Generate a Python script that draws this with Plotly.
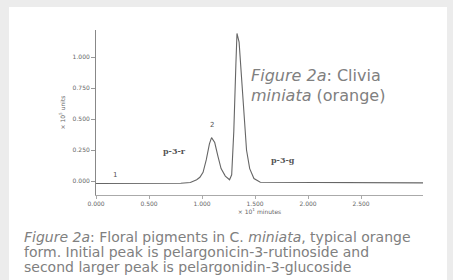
import plotly.graph_objects as go

# Chromatogram trace
time = [0.00, 0.18, 0.50, 0.80, 0.89, 0.95, 0.98, 1.01, 1.04, 1.07, 1.09, 1.12, 1.15, 1.18,
        1.22, 1.26, 1.28, 1.30, 1.32, 1.33, 1.35, 1.37, 1.40, 1.42, 1.45, 1.49, 1.55, 2.00, 3.11]
signal = [-0.02, -0.02, -0.02, -0.018, -0.012, 0.01, 0.03, 0.07, 0.17, 0.30, 0.35, 0.31, 0.20, 0.10,
          0.04, 0.01, 0.05, 0.40, 0.95, 1.19, 1.12, 0.85, 0.50, 0.25, 0.10, 0.02, -0.01, -0.012, -0.015]

x_ticks = [0.0, 0.5, 1.0, 1.5, 2.0, 2.5]
x_tick_labels = ["0.000", "0.500", "1.000", "1.500", "2.000", "2.500"]
y_ticks = [0.0, 0.25, 0.5, 0.75, 1.0]
y_tick_labels = ["0.000", "0.250", "0.500", "0.750", "1.000"]

peak_names = ["1", "2", "3"]
peak_times = [0.18, 1.09, 1.33]
peak_heights = [0.05, 0.45, 1.30]

compound_labels = ["p-3-r", "p-3-g"]
compound_x = [0.74, 1.76]
compound_y = [0.24, 0.17]

title_lines = ["<i>Figure 2a</i>: Clivia", "<i>miniata</i> (orange)"]
caption_lines = ["<i>Figure 2a</i>: Floral pigments in C. <i>miniata</i>, typical orange",
                 "form. Initial peak is pelargonicin-3-rutinoside and",
                 "second larger peak is pelargonidin-3-glucoside"]

W, H = 453, 280
L, R, T, B = 96, 30, 30, 85
PW, PH = W - L - R, H - T - B


def px(p):
    return (p - L) / PW


def py(q):
    return (H - B - q) / PH


fig = go.Figure()
fig.add_trace(go.Scatter(x=time, y=signal, mode="lines",
                         line=dict(color="#666666", width=1.1), hoverinfo="skip"))

grey = "#808080"
ann = []
for n, t, h in zip(peak_names, peak_times, peak_heights):
    ann.append(dict(x=t, y=h, xref="x", yref="y", text=n, showarrow=False,
                    font=dict(family="DejaVu Sans", size=7, color="#555")))
for lab, cx, cy in zip(compound_labels, compound_x, compound_y):
    ann.append(dict(x=cx, y=cy, xref="x", yref="y", text="<b>" + lab + "</b>", showarrow=False,
                    font=dict(family="DejaVu Serif", size=8, color="#555")))

for i, line in enumerate(title_lines):
    ann.append(dict(x=px(249), y=py(75 + 20 * i), xref="paper", yref="paper",
                    xanchor="left", yanchor="middle", text=line, showarrow=False,
                    font=dict(family="DejaVu Sans", size=16, color=grey)))
for i, line in enumerate(caption_lines):
    ann.append(dict(x=px(22), y=py(237 + 15 * i), xref="paper", yref="paper",
                    xanchor="left", yanchor="middle", text=line, showarrow=False,
                    font=dict(family="DejaVu Sans", size=14, color=grey)))

fig.update_layout(
    width=W, height=H,
    margin=dict(l=L, r=R, t=T, b=B, autoexpand=False),
    paper_bgcolor="#ececec",
    plot_bgcolor="white",
    showlegend=False,
    annotations=ann,
    shapes=[dict(type="rect", xref="paper", yref="paper", layer="below",
                 x0=px(9), x1=px(447), y0=py(280), y1=py(7),
                 fillcolor="white", line=dict(width=0))],
    xaxis=dict(range=[0, PW / 106], tickvals=x_ticks, ticktext=x_tick_labels, automargin=False,
               showline=True, linecolor="#aaa", linewidth=1, ticks="outside", ticklen=3,
               tickcolor="#aaa", showgrid=False, zeroline=False,
               tickfont=dict(family="DejaVu Sans", size=6, color="#666"),
               title=dict(text="× 10<sup>1</sup> minutes", standoff=2,
                          font=dict(family="DejaVu Sans", size=6, color="#666"))),
    yaxis=dict(range=[-(195 - 181) / 124, (181 - 30) / 124], tickvals=y_ticks, ticktext=y_tick_labels,
               automargin=False,
               showline=True, linecolor="#888", linewidth=1, ticks="outside", ticklen=4,
               tickcolor="#999", showgrid=False, zeroline=False,
               tickfont=dict(family="DejaVu Sans", size=6, color="#666"),
               title=dict(text="× 10<sup>5</sup> units", standoff=6,
                          font=dict(family="DejaVu Sans", size=6, color="#666"))),
)

fig.write_html("out.html", config={"displayModeBar": False},
               post_script="document.body.style.margin='0';")
